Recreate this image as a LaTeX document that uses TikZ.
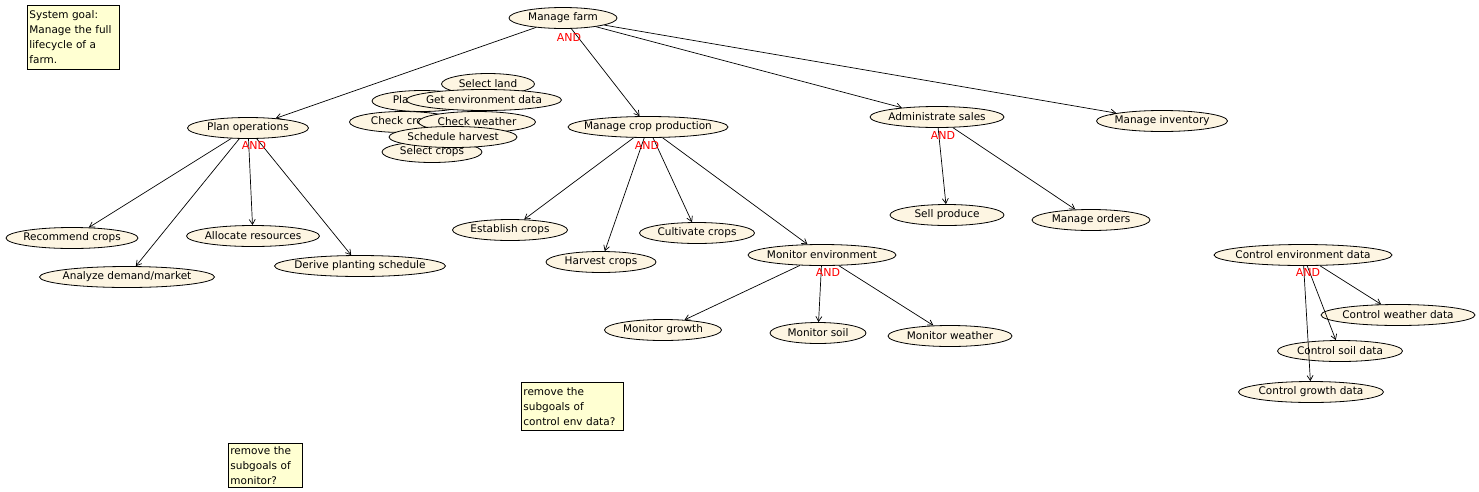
\documentclass[tikz,border=0pt]{standalone}
\usepackage{fontspec}
\setmainfont{DejaVu Sans}
\usetikzlibrary{shapes.geometric,arrows.meta}
\definecolor{goalfill}{RGB}{253,245,226}
\definecolor{notefill}{RGB}{255,255,210}

\begin{document}
\begin{tikzpicture}[x=1pt,y=-1pt,
  goal/.style={ellipse, draw=black, line width=0.8pt, fill=goalfill, inner xsep=-30pt, inner ysep=0pt, minimum height=21pt, minimum width=#1, font=\fontsize{10.5}{13}\selectfont},
  andlbl/.style={text=red, inner sep=0pt, font=\fontsize{11}{13}\selectfont},
  note/.style={draw=black, line width=0.8pt, fill=notefill, anchor=north west, align=left, inner sep=2pt, font=\fontsize{10.5}{15}\selectfont},
  link/.style={-{Straight Barb[length=5pt,width=6pt]}, line width=0.7pt}]
\useasboundingbox (0,0) rectangle (1479,491);

%notes
\node[note, text width=88pt, minimum height=64pt] (goalnote) at (27,5) {System goal:\\Manage the full\\lifecycle of a\\farm.};
\node[note, text width=98pt, minimum height=48pt] (envnote) at (521,382) {remove the\\subgoals of\\control env data?};
\node[note, text width=70pt, minimum height=44pt] (monnote) at (228,443) {remove the\\subgoals of\\monitor?};

%top
\node[goal=108pt] (farm) at (563,18) {Manage farm};
\node[goal=121pt] (plan) at (248,128) {Plan operations};
\node[goal=160pt] (crop) at (648,127) {Manage crop production};
\node[goal=134pt] (sales) at (937,117) {Administrate sales};
\node[goal=131pt] (inventory) at (1162,121) {Manage inventory};

%plan operations
\node[goal=132pt] (recommend) at (72,238) {Recommend crops};
\node[goal=175pt] (analyze) at (127,277) {Analyze demand/market};
\node[goal=133pt] (allocate) at (253,236) {Allocate resources};
\node[goal=171pt] (derive) at (360,266) {Derive planting schedule};

%crop production
\node[goal=115pt] (establish) at (510,230) {Establish crops};
\node[goal=110pt] (harvest) at (601,262) {Harvest crops};
\node[goal=115pt] (cultivate) at (697,233) {Cultivate crops};
\node[goal=148pt] (monitor) at (822,255) {Monitor environment};
\node[goal=117pt] (growth) at (663,330) {Monitor growth};
\node[goal=96pt] (soil) at (818,333) {Monitor soil};
\node[goal=124pt] (weather) at (950,336) {Monitor weather};

%sales
\node[goal=114pt] (sell) at (947,215) {Sell produce};
\node[goal=118pt] (orders) at (1091,220) {Manage orders};

%control data
\node[goal=178pt] (ctrlenv) at (1303,255) {Control environment data};
\node[goal=154pt] (ctrlweather) at (1398,315) {Control weather data};
\node[goal=125pt] (ctrlsoil) at (1340,351) {Control soil data};
\node[goal=145pt] (ctrlgrowth) at (1311,392) {Control growth data};

%stacked pile
\node[goal=100pt] (selcrops) at (432,152) {Select crops};
\node[goal=107pt] (chkcrops) at (403,122) {Check crops};
\node[goal=100pt] (plantcrops) at (422,101) {Plant crops};
\node[goal=93pt] (selland) at (488,84) {Select land};
\node[goal=155pt] (getenv) at (484,100) {Get environment data};
\node[goal=117pt] (chkweather) at (477,122) {Check weather};
\node[goal=128pt] (schedule) at (453,137) {Schedule harvest};

%links
\draw[link] (farm) -- (plan);
\draw[link] (farm) -- (crop);
\draw[link] (farm) -- (sales);
\draw[link] (farm) -- (inventory);
\draw[link] (plan) -- (recommend);
\draw[link] (plan) -- (analyze);
\draw[link] (plan) -- (allocate);
\draw[link] (plan) -- (derive);
\draw[link] (crop) -- (establish);
\draw[link] (crop) -- (harvest);
\draw[link] (crop) -- (cultivate);
\draw[link] (crop) -- (monitor);
\draw[link] (monitor) -- (growth);
\draw[link] (monitor) -- (soil);
\draw[link] (monitor) -- (weather);
\draw[link] (sales) -- (sell);
\draw[link] (sales) -- (orders);
\draw[link] (ctrlenv) -- (ctrlweather);
\draw[link] (ctrlenv) -- (ctrlsoil);
\draw[link] (ctrlenv) -- (ctrlgrowth);

%and
\node[andlbl] (farmand) at (569,37) {AND};
\node[andlbl] (planand) at (254,145) {AND};
\node[andlbl] (cropand) at (647,145) {AND};
\node[andlbl] (salesand) at (943,135) {AND};
\node[andlbl] (monitorand) at (828,272) {AND};
\node[andlbl] (ctrlenvand) at (1308,272) {AND};

\end{tikzpicture}
\end{document}
